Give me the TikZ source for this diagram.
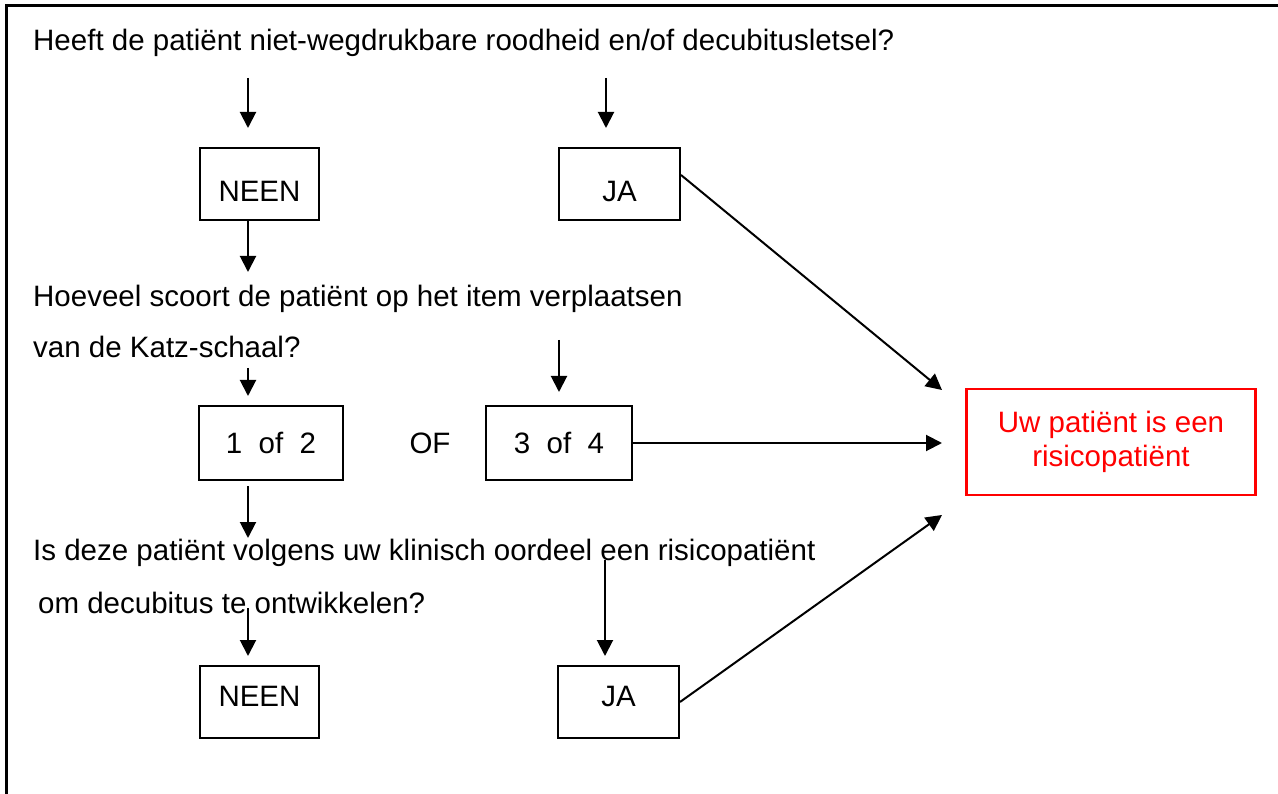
\documentclass[tikz,border=0pt]{standalone}
\usepackage{fontspec}
\setmainfont{Liberation Sans}
\usetikzlibrary{arrows.meta}
\tikzset{box/.style = {draw, line width = 2, inner sep = 0, minimum height = 72}}
\tikzset{flow/.style = {line width = 2, -{Triangle[length = 16pt, width = 16pt]}}}
\tikzset{txt/.style = {anchor = base west, inner sep = 0}}
\tikzset{capdown/.style = {text height = #1, text depth = 0}}
\tikzset{capup/.style = {text height = 21, text depth = #1}}

\begin{document}
\begin{tikzpicture}[x = 1pt, y = -1pt, font = \fontsize{29.5}{34}\selectfont]
    \useasboundingbox (0, 0) rectangle (1278, 794);
    \draw [line width = 3] (1278, 6) -- (6, 6) -- (6, 794);

    \node [txt] (q1) at (33, 51) {Heeft de patiënt niet-wegdrukbare roodheid en/of decubitusletsel?};
    \node [box, minimum width = 119, capdown = 35] (nee1) at (259.5, 184) {NEEN};
    \node [box, minimum width = 121, capdown = 35] (ja1) at (619.5, 184) {JA};

    \node [txt] (q2a) at (33, 307) {Hoeveel scoort de patiënt op het item verplaatsen};
    \node [txt] (q2b) at (33, 358) {van de Katz-schaal?};
    \node [box, minimum width = 144, minimum height = 73] (d12) at (271, 443) {1~~of~~2};
    \node (of) at (430, 443) {OF};
    \node [box, minimum width = 146, minimum height = 73] (d34) at (559, 443) {3~~of~~4};

    \node [txt] (q3a) at (33, 560) {Is deze patiënt volgens uw klinisch oordeel een risicopatiënt};
    \node [txt] (q3b) at (38, 613) {om decubitus te ontwikkelen?};
    \node [box, minimum width = 119, capup = 12] (nee2) at (259.5, 702) {NEEN};
    \node [box, minimum width = 121, capup = 12] (ja2) at (618.5, 702) {JA};

    \node [box, draw = red, line width = 2.8, text = red, align = center,
           minimum width = 289, minimum height = 106] (risk) at (1111, 442)
          {Uw patiënt is een\\risicopatiënt};

    \foreach \n/\x/\ya/\yb in {a/248/78/128, b/606/78/128, c/248/221/272, d/248/368/396,
                               e/559/340/392, f/248/486/538, g/605/560/656, h/248/608/656} {
      \coordinate (\n0) at (\x, \ya);
      \coordinate (\n1) at (\x, \yb);
      \draw [flow] (\n0) -- (\n1);
    }

    \coordinate (r1) at (942, 390);
    \coordinate (r2) at (942, 443);
    \coordinate (r3) at (942, 515);
    \draw [flow] ([yshift = 9pt] ja1.east) -- (r1);
    \draw [flow] (d34.east) -- (r2);
    \draw [flow] (ja2.east) -- (r3);
  \end{tikzpicture}
\end{document}
